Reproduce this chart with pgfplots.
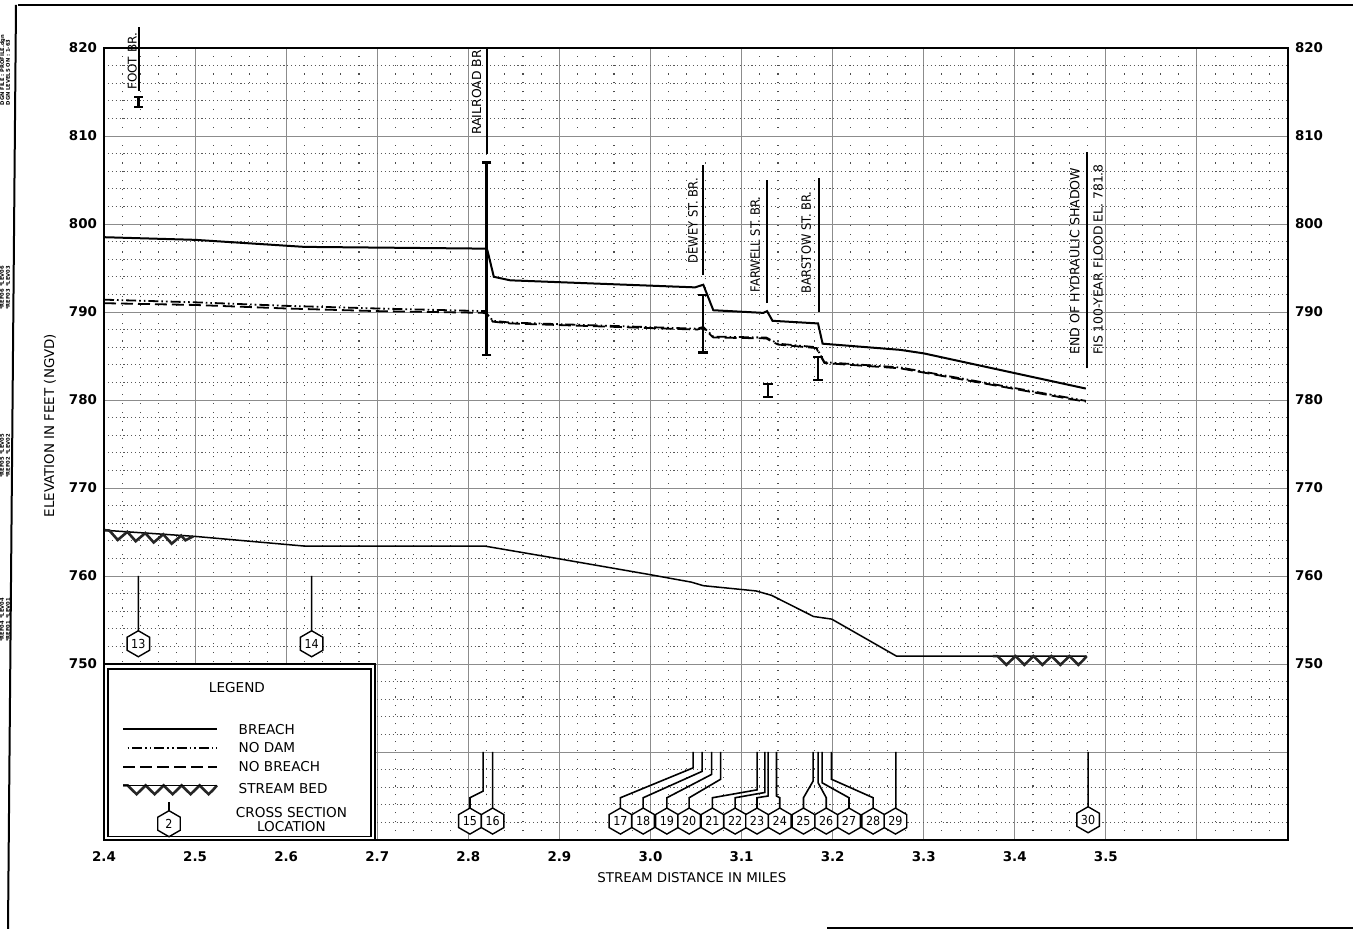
\documentclass[border=0pt]{standalone}
\usepackage{fontspec}
\setmainfont{DejaVu Sans}
\newfontfamily\condfont[FakeStretch=0.9]{DejaVu Sans}
\usepackage{pgfplots}
\usepackage{pgfplotstable}
\pgfplotsset{compat=1.18}
\usetikzlibrary{shapes.geometric,decorations.pathmorphing}

\pgfplotstableread{
x y
2.400 798.5
2.500 798.2
2.620 797.4
2.820 797.2
2.821 797.0
2.828 794.0
2.846 793.6
3.049 792.8
3.058 793.1
3.069 790.2
3.124 789.9
3.128 790.1
3.134 789.0
3.184 788.7
3.189 786.4
3.274 785.7
3.300 785.3
3.478 781.3
}\breach

\pgfplotstableread{
x y
2.400 791.4
2.500 791.1
2.600 790.7
2.700 790.4
2.818 790.1
2.827 789.0
2.846 788.8
3.051 788.1
3.058 788.3
3.069 787.2
3.127 787.1
3.140 786.4
3.182 786.0
3.191 784.3
3.274 783.7
3.478 779.9
}\nodam

\pgfplotstableread{
x y
2.400 791.0
2.500 790.8
2.600 790.4
2.700 790.1
2.818 789.9
2.827 788.9
2.846 788.7
3.051 788.0
3.058 788.2
3.069 787.1
3.127 787.0
3.140 786.3
3.182 785.9
3.191 784.2
3.274 783.6
3.478 779.8
}\nobreach

\pgfplotstableread{
x y
2.400 765.2
2.500 764.5
2.620 763.4
2.818 763.4
2.897 762.0
2.997 760.2
3.045 759.3
3.058 758.9
3.116 758.3
3.133 757.8
3.179 755.4
3.199 755.1
3.270 750.9
3.479 750.9
}\streambed

\pgfplotstableread{
x y
2.4377 760
2.4377 753.75
nan nan
2.628 760
2.628 753.75
nan nan
2.8162 740
2.8162 735.55
2.8018 734.8
2.8018 733.6
nan nan
2.8267 740
2.8267 733.6
nan nan
3.0469 740
3.0469 738.2
2.967 734.8
2.967 733.6
nan nan
3.0567 740
3.0567 737.8
2.992 734.8
2.992 733.6
nan nan
3.0671 740
3.0671 737.45
3.018 734.8
3.018 733.6
nan nan
3.0770 740
3.0770 736.9
3.0425 734.8
3.0425 733.6
nan nan
3.1171 740
3.1171 735.7
3.068 734.8
3.068 733.6
nan nan
3.1256 740
3.1256 735.4
3.093 734.8
3.093 733.6
nan nan
3.1292 740
3.1292 735.0
3.117 734.8
3.117 733.6
nan nan
3.1384 740
3.1384 735.0
3.142 734.8
3.142 733.6
nan nan
3.1786 740
3.1786 736.7
3.168 734.8
3.168 733.6
nan nan
3.1841 740
3.1841 736.5
3.193 734.8
3.193 733.6
nan nan
3.1885 740
3.1885 736.5
3.218 734.8
3.218 733.6
nan nan
3.1988 740
3.1988 736.9
3.2445 734.8
3.2445 733.6
nan nan
3.2694 740
3.2694 733.6
nan nan
3.4805 740
3.4805 733.6
}\leaders

\pgfplotstableread{
x y lab
2.4377 752.3 13
2.628 752.3 14
2.8018 732.15 15
2.8267 732.15 16
2.967 732.15 17
2.992 732.15 18
3.018 732.15 19
3.0425 732.15 20
3.068 732.15 21
3.093 732.15 22
3.117 732.15 23
3.142 732.15 24
3.168 732.15 25
3.193 732.15 26
3.218 732.15 27
3.2445 732.15 28
3.269 732.15 29
3.4805 732.3 30
}\hexes

\begin{document}
\begin{tikzpicture}
\useasboundingbox (-52pt,-44.5pt) rectangle (624.5pt,420pt);
% sheet frame
\draw[line width=1pt] (-43pt,417.5pt) -- (624.5pt,417.5pt);
\draw[line width=1pt] (-44pt,417.5pt) -- (-48pt,-44.5pt);
\draw[line width=1pt] (361.5pt,-44pt) -- (624.5pt,-44pt);
% tiny sheet notes
\begin{scope}[font=\fontsize{2.6}{2.9}\selectfont\bfseries]
\node[rotate=90, align=left] at (-49.5pt,385pt) {DGN FILE : PROFILE.dgn\\DGN LEVELS ON : 1-63};
\node[rotate=90, align=left] at (-49.5pt,276pt) {*REF06 *LEV06\\*REF03 *LEV03};
\node[rotate=90, align=left] at (-49.5pt,192pt) {*REF05 *LEV05\\*REF02 *LEV02};
\node[rotate=90, align=left] at (-49.5pt,110pt) {*REF04 *LEV04\\*REF01 *LEV01};
\end{scope}

\begin{axis}[
  at={(0,0)}, anchor=south west, scale only axis,
  width=592pt, height=396pt,
  xmin=2.4, xmax=3.7, ymin=730, ymax=820,
  xtick={2.4,2.5,2.6,2.7,2.8,2.9,3.0,3.1,3.2,3.3,3.4,3.5,3.6,3.7},
  xticklabels={2.4,2.5,2.6,2.7,2.8,2.9,3.0,3.1,3.2,3.3,3.4,3.5,,},
  ytick={730,740,750,760,770,780,790,800,810,820},
  yticklabels={,,750,760,770,780,790,800,810,820},
  minor x tick num=4, minor y tick num=4,
  grid=both,
  major grid style={black!45, line width=0.45pt},
  minor x grid style={black!70, line width=0.55pt, dash pattern=on 0.55pt off 3.9pt},
  minor y grid style={black!65, line width=0.55pt, dash pattern=on 0.55pt off 1.4pt},
  major tick length=0pt, minor tick length=0pt,
  axis line style={line width=0.8pt},
  /pgf/number format/assume math mode=true,
  xticklabel style={font=\fontsize{6.7}{7.5}\selectfont\bfseries, yshift=-2pt},
  yticklabel style={font=\fontsize{6.7}{7.5}\selectfont\bfseries},
  clip=false,
  unbounded coords=jump,
]
% profiles
\addplot[black, line width=1pt] table {\breach};
\addplot[black, line width=0.9pt, dash pattern=on 5pt off 1.5pt on 0.8pt off 1.5pt on 0.8pt off 1.5pt] table {\nodam};
\addplot[black, line width=0.9pt, dash pattern=on 6pt off 2.5pt] table {\nobreach};
\addplot[black, line width=0.75pt] table {\streambed};
% stream bed hatching
\addplot[draw=none, postaction={draw=black!85, line width=1.3pt, decorate, decoration={zigzag, segment length=9pt, amplitude=2.2pt, raise=-2.2pt}}] coordinates {(2.401,765.2) (2.498,764.5)};
\addplot[draw=none, postaction={draw=black!85, line width=1.3pt, decorate, decoration={zigzag, segment length=9pt, amplitude=2.2pt, raise=-2.2pt}}] coordinates {(3.376,750.9) (3.479,750.9)};

% bridge I-bars
\addplot[black, line width=1.1pt, mark=-, mark size=2.2pt, mark options={line width=1.1pt}] coordinates {(2.4379,813.3) (2.4379,814.4)};
\addplot[black, line width=1.1pt, mark=-, mark size=2.4pt, mark options={line width=1.1pt}] coordinates {(2.820,785.1) (2.820,807.0)};
\addplot[black, line width=1.1pt, mark=-, mark size=2.4pt, mark options={line width=1.1pt}] coordinates {(3.058,785.4) (3.058,791.9)};
\addplot[black, line width=1.1pt, mark=-, mark size=2.4pt, mark options={line width=1.1pt}] coordinates {(3.129,780.3) (3.129,781.8)};
\addplot[black, line width=1.1pt, mark=-, mark size=2.4pt, mark options={line width=1.1pt}] coordinates {(3.184,782.3) (3.184,784.9)};

% label lines
\addplot[black, line width=1pt] coordinates {(2.4386,815.1) (2.4386,822.4)};
\addplot[black, line width=1pt] coordinates {(2.820,808.0) (2.820,820)};
\addplot[black, line width=1pt] coordinates {(3.0577,794.2) (3.0577,806.7)};
\addplot[black, line width=1pt] coordinates {(3.1276,791.0) (3.1276,805.0)};
\addplot[black, line width=1pt] coordinates {(3.1847,790.0) (3.1847,805.2)};
\addplot[black, line width=1pt] coordinates {(3.479,783.6) (3.479,808.2)};

% cross-section leaders and hexagons
\addplot[black, line width=0.8pt] table {\leaders};
\addplot[draw=none, nodes near coords, point meta=explicit symbolic,
  nodes near coords align={center},
  every node near coord/.append style={regular polygon, regular polygon sides=6,
    shape border rotate=30, draw=black, line width=0.7pt, fill=white,
    minimum size=13pt, inner sep=0pt, anchor=center,
    font=\condfont\fontsize{6.2}{6.5}\selectfont}]
  table[meta=lab] {\hexes};

% bridge labels
\node[rotate=90, anchor=west, inner sep=0pt, font=\fontsize{6.0}{7}\selectfont] at (axis cs:2.431,815.2) {FOOT BR.};
\node[rotate=90, anchor=west, inner sep=0pt, font=\fontsize{6.2}{7}\selectfont] at (axis cs:2.809,810.1) {RAILROAD BR.};
\node[rotate=90, anchor=west, inner sep=0pt, font=\condfont\fontsize{6.4}{7}\selectfont] at (axis cs:3.0467,795.5) {DEWEY ST. BR.};
\node[rotate=90, anchor=west, inner sep=0pt, font=\condfont\fontsize{6.4}{7}\selectfont] at (axis cs:3.115,792.2) {FARWELL ST. BR.};
\node[rotate=90, anchor=west, inner sep=0pt, font=\condfont\fontsize{6.4}{7}\selectfont] at (axis cs:3.171,792.1) {BARSTOW ST. BR.};
\node[rotate=90, anchor=west, inner sep=0pt, font=\fontsize{6.3}{7}\selectfont] at (axis cs:3.466,785.1) {END OF HYDRAULIC SHADOW};
\node[rotate=90, anchor=west, inner sep=0pt, font=\fontsize{6.2}{7}\selectfont] at (axis cs:3.4915,785.1) {FIS 100-YEAR FLOOD EL. 781.8};

% axis titles
\node[rotate=90, font=\fontsize{6.7}{7}\selectfont] at (axis cs:2.3407,777.1) {ELEVATION IN FEET (NGVD)};
\node[font=\fontsize{6.7}{7}\selectfont] at (axis cs:3.0455,725.7) {STREAM DISTANCE IN MILES};

% legend box
\fill[white] (axis cs:2.4,730) rectangle (axis cs:2.6975,750);
\draw[line width=0.8pt] (axis cs:2.4,730) rectangle (axis cs:2.6975,750);
\draw[line width=0.8pt] (axis cs:2.4044,730.4) rectangle (axis cs:2.6931,749.45);
\begin{scope}[font=\fontsize{6.8}{7}\selectfont]
\node at (axis cs:2.546,747.3) {LEGEND};
\draw[black, line width=1pt] (axis cs:2.421,742.6) -- (axis cs:2.524,742.6);
\node[anchor=west, inner sep=0pt] at (axis cs:2.5475,742.6) {BREACH};
\draw[black, line width=0.9pt, dash pattern=on 0.8pt off 1.5pt on 5pt off 1.5pt on 0.8pt off 1.5pt] (axis cs:2.426,740.45) -- (axis cs:2.524,740.45);
\node[anchor=west, inner sep=0pt] at (axis cs:2.5475,740.45) {NO DAM};
\draw[black, line width=0.9pt, dash pattern=on 6pt off 2.5pt] (axis cs:2.421,738.3) -- (axis cs:2.524,738.3);
\node[anchor=west, inner sep=0pt] at (axis cs:2.5475,738.3) {NO BREACH};
\draw[black!85, line width=1.3pt, decorate, decoration={zigzag, segment length=9pt, amplitude=2.2pt, raise=-2.2pt}] (axis cs:2.421,736.2) -- (axis cs:2.524,736.2);
\draw[black, line width=0.75pt] (axis cs:2.421,736.2) -- (axis cs:2.524,736.2);
\node[anchor=west, inner sep=0pt] at (axis cs:2.5475,735.8) {STREAM BED};
\draw[black, line width=0.8pt] (axis cs:2.4714,734.3) -- (axis cs:2.4714,733.3);
\node[regular polygon, regular polygon sides=6, shape border rotate=30, draw=black, line width=0.7pt, minimum size=13pt, inner sep=0pt, font=\condfont\fontsize{6.2}{6.5}\selectfont] at (axis cs:2.4714,731.85) {2};
\node[align=center, inner sep=0pt] at (axis cs:2.6058,732.3) {CROSS SECTION\\LOCATION};
\end{scope}
\end{axis}

% right-hand elevation labels
\begin{axis}[
  at={(0,0)}, anchor=south west, scale only axis,
  width=592pt, height=396pt,
  xmin=2.4, xmax=3.7, ymin=730, ymax=820,
  hide x axis, axis y line*=right, axis line style={draw=none},
  ytick={730,740,750,760,770,780,790,800,810,820},
  yticklabels={,,750,760,770,780,790,800,810,820},
  major tick length=0pt,
  /pgf/number format/assume math mode=true,
  yticklabel style={font=\fontsize{6.7}{7.5}\selectfont\bfseries},
]
\addplot[draw=none] coordinates {(2.4,730)};
\end{axis}
\end{tikzpicture}
\end{document}
